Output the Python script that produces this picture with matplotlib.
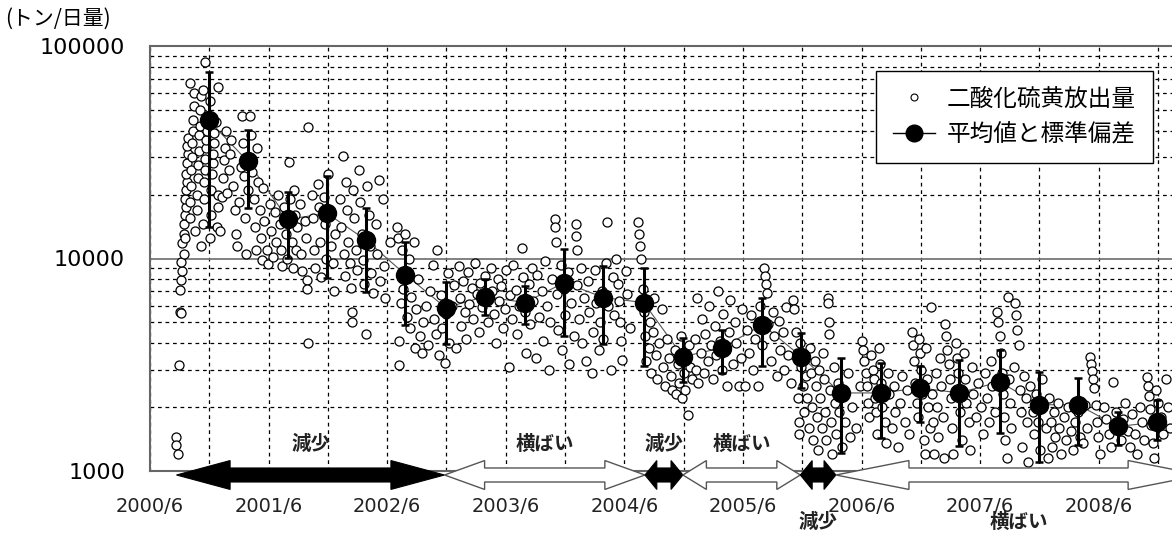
import matplotlib
matplotlib.use('Agg')
import matplotlib.pyplot as plt
from matplotlib.ticker import FixedLocator, NullFormatter, FuncFormatter, LogLocator
from matplotlib.transforms import blended_transform_factory
from matplotlib.lines import Line2D

plt.rcParams['font.family'] = ['DejaVu Sans', 'Noto Sans CJK JP']
CJK = ['Noto Sans CJK JP', 'DejaVu Sans']

# daily SO2 emission (date as decimal year, t/day)
obs_2000 = [(2000.64, 1450), (2000.64, 1330), (2000.65, 1200), (2000.66, 3150), (2000.67, 5600),
            (2000.68, 5550), (2000.67, 7100), (2000.68, 7900), (2000.69, 8700), (2000.68, 9600),
            (2000.70, 10500), (2000.69, 11800), (2000.70, 13000), (2000.71, 12500), (2000.70, 14500),
            (2000.71, 16000), (2000.72, 17500), (2000.71, 19000), (2000.72, 21000), (2000.73, 23000),
            (2000.72, 25000), (2000.73, 28000), (2000.74, 31000), (2000.73, 34000), (2000.74, 37000),
            (2000.75, 15500), (2000.75, 18500), (2000.76, 22000), (2000.76, 26000), (2000.77, 30000),
            (2000.77, 35000), (2000.78, 40000), (2000.78, 45000), (2000.79, 52000), (2000.79, 60000),
            (2000.75, 67000), (2000.80, 13500), (2000.81, 17000), (2000.81, 20000), (2000.82, 24000),
            (2000.82, 27500), (2000.83, 32000), (2000.83, 38000), (2000.84, 42000), (2000.84, 50000),
            (2000.85, 58000), (2000.86, 62000), (2000.85, 11500), (2000.86, 14500), (2000.87, 19000),
            (2000.87, 23000), (2000.88, 26000), (2000.88, 29500), (2000.89, 33000), (2000.89, 36000),
            (2000.90, 40000), (2000.90, 47000), (2000.88, 84000), (2000.92, 55000), (2000.92, 12500),
            (2000.93, 16000), (2000.93, 21000), (2000.94, 25000), (2000.95, 28000), (2000.95, 31000),
            (2000.96, 35000), (2000.96, 39000), (2000.97, 44000), (2000.99, 64000), (2000.98, 14000),
            (2000.99, 17500), (2000.99, 20000)]
obs_2001 = [(2001.01, 13400), (2001.02, 19500), (2001.03, 24000), (2001.04, 29000), (2001.05, 33000),
            (2001.06, 40000), (2001.07, 20400), (2001.08, 26000), (2001.09, 31000), (2001.10, 36000),
            (2001.12, 22000), (2001.13, 17000), (2001.14, 13000), (2001.15, 11500), (2001.17, 18500),
            (2001.18, 27000), (2001.19, 47000), (2001.20, 35000), (2001.21, 24500), (2001.22, 15500),
            (2001.23, 10500), (2001.24, 21000), (2001.25, 30000), (2001.26, 47000), (2001.27, 38000),
            (2001.28, 25500), (2001.29, 19000), (2001.30, 14000), (2001.31, 11000), (2001.32, 33000),
            (2001.33, 23000), (2001.34, 17000), (2001.35, 12500), (2001.36, 9800), (2001.37, 21500),
            (2001.38, 15000), (2001.40, 11000), (2001.41, 9400), (2001.43, 18000), (2001.44, 13500),
            (2001.45, 10200), (2001.47, 16500), (2001.48, 12000), (2001.50, 20000), (2001.51, 14500),
            (2001.52, 11000), (2001.53, 9200), (2001.55, 17500), (2001.56, 13000), (2001.57, 10000),
            (2001.58, 15500), (2001.59, 28300), (2001.60, 19000), (2001.61, 12000), (2001.62, 9000),
            (2001.63, 21000), (2001.64, 16000), (2001.65, 11000), (2001.66, 14000), (2001.68, 18000),
            (2001.69, 10500), (2001.70, 8700), (2001.72, 15000), (2001.73, 12500), (2001.74, 7900),
            (2001.74, 7200), (2001.75, 4000), (2001.75, 41500), (2001.78, 20000), (2001.79, 15500),
            (2001.80, 11000), (2001.81, 9000), (2001.83, 22500), (2001.84, 17500), (2001.85, 12000),
            (2001.86, 8200), (2001.88, 19500), (2001.89, 14500), (2001.90, 10000), (2001.92, 25000),
            (2001.93, 16500), (2001.94, 11500), (2001.96, 9500), (2001.97, 7000), (2001.98, 13000)]
obs_2002 = [(2002.02, 19000), (2002.03, 14000), (2002.04, 30300), (2002.05, 10500), (2002.06, 8300),
            (2002.07, 23000), (2002.08, 17000), (2002.09, 12000), (2002.10, 9500), (2002.11, 7300),
            (2002.12, 5600), (2002.12, 5000), (2002.13, 21000), (2002.14, 15500), (2002.15, 11000),
            (2002.16, 8800), (2002.18, 26000), (2002.19, 18500), (2002.20, 13000), (2002.21, 9800),
            (2002.22, 7600), (2002.24, 4400), (2002.25, 22000), (2002.26, 16000), (2002.27, 11500),
            (2002.28, 8500), (2002.30, 6900), (2002.32, 14500), (2002.33, 10500), (2002.35, 23500),
            (2002.36, 7800), (2002.38, 19000), (2002.39, 9200), (2002.40, 6500), (2002.44, 12000),
            (2002.50, 14000), (2002.51, 12500), (2002.52, 3170), (2002.52, 4100), (2002.53, 6200),
            (2002.54, 11000), (2002.55, 7200), (2002.57, 13000), (2002.58, 5300), (2002.60, 9900),
            (2002.61, 4700), (2002.62, 6600), (2002.64, 12000), (2002.65, 3800), (2002.66, 5800),
            (2002.68, 8000), (2002.69, 4300), (2002.71, 3600), (2002.72, 5000), (2002.74, 6000),
            (2002.76, 3900), (2002.78, 7000), (2002.80, 9300), (2002.81, 5200), (2002.83, 4400),
            (2002.84, 11000), (2002.85, 3500), (2002.87, 6700), (2002.88, 4700), (2002.90, 3230),
            (2002.91, 5500), (2002.93, 8500), (2002.94, 4000), (2002.96, 6000), (2002.98, 7500),
            (2003.00, 3800)]
obs_2003 = [(2003.02, 9200), (2003.03, 6500), (2003.04, 4800), (2003.06, 7800), (2003.07, 5600),
            (2003.08, 4200), (2003.10, 8600), (2003.11, 6100), (2003.13, 7300), (2003.14, 5200),
            (2003.16, 9500), (2003.17, 6800), (2003.19, 4500), (2003.20, 7700), (2003.22, 5900),
            (2003.24, 8300), (2003.25, 6400), (2003.27, 5000), (2003.29, 9000), (2003.30, 7000),
            (2003.32, 5500), (2003.33, 4000), (2003.35, 8000), (2003.36, 6300), (2003.38, 7400),
            (2003.39, 4700), (2003.41, 5800), (2003.42, 8800), (2003.44, 3100), (2003.45, 6700),
            (2003.47, 5200), (2003.48, 9300), (2003.50, 7100), (2003.51, 4400), (2003.53, 6000),
            (2003.55, 11200), (2003.56, 8200), (2003.58, 5600), (2003.59, 3600), (2003.61, 7600),
            (2003.62, 4900), (2003.64, 9000), (2003.65, 6300), (2003.67, 3400), (2003.68, 8400),
            (2003.70, 5300), (2003.72, 7000), (2003.73, 4100), (2003.75, 9700), (2003.76, 6000),
            (2003.78, 3000), (2003.79, 5000), (2003.81, 8000), (2003.83, 15300), (2003.83, 14000),
            (2003.84, 12000), (2003.85, 6800), (2003.86, 4600), (2003.88, 9300), (2003.89, 3700),
            (2003.91, 7200), (2003.92, 5400), (2003.94, 8600), (2003.95, 3200), (2003.97, 6200),
            (2003.99, 4300), (2004.01, 14500), (2004.01, 12800), (2004.02, 11000)]
obs_2004 = [(2004.02, 7500), (2004.03, 5200), (2004.05, 9000), (2004.06, 4000), (2004.08, 6500),
            (2004.09, 3300), (2004.11, 7800), (2004.12, 5600), (2004.14, 2900), (2004.15, 4500),
            (2004.17, 8800), (2004.18, 6200), (2004.20, 3700), (2004.21, 5000), (2004.23, 7000),
            (2004.24, 4200), (2004.26, 9500), (2004.27, 14800), (2004.28, 6000), (2004.30, 3000),
            (2004.32, 8200), (2004.33, 5400), (2004.35, 9900), (2004.36, 7600), (2004.37, 6300),
            (2004.38, 5000), (2004.39, 4100), (2004.40, 3340), (2004.43, 8700), (2004.44, 6800),
            (2004.46, 4700), (2004.53, 14800), (2004.54, 13000), (2004.55, 11500), (2004.56, 9900),
            (2004.57, 7200), (2004.58, 5600), (2004.59, 4300), (2004.60, 3300), (2004.61, 6400),
            (2004.62, 3800), (2004.63, 5000), (2004.64, 2900), (2004.66, 4500), (2004.67, 6500),
            (2004.68, 3500), (2004.69, 2700), (2004.71, 4000), (2004.73, 5800), (2004.74, 3100),
            (2004.76, 2500), (2004.78, 4200), (2004.79, 3400), (2004.81, 2800), (2004.82, 2400),
            (2004.84, 3700), (2004.85, 2300), (2004.87, 3200), (2004.88, 2600), (2004.89, 4300),
            (2004.90, 2200), (2004.91, 3500), (2004.92, 2900), (2004.93, 2400), (2004.95, 1840),
            (2004.96, 3900), (2004.97, 3100), (2004.99, 2700)]
obs_2005 = [(2005.01, 4200), (2005.02, 3000), (2005.03, 6500), (2005.04, 2600), (2005.06, 3600),
            (2005.07, 5200), (2005.09, 2900), (2005.10, 4400), (2005.12, 3300), (2005.13, 6000),
            (2005.15, 3900), (2005.16, 2700), (2005.18, 4800), (2005.19, 3500), (2005.21, 7000),
            (2005.22, 4100), (2005.24, 3000), (2005.25, 5500), (2005.27, 3700), (2005.28, 2500),
            (2005.30, 4500), (2005.31, 6400), (2005.33, 3200), (2005.35, 5000), (2005.36, 4000),
            (2005.38, 2500), (2005.40, 3400), (2005.41, 5800), (2005.43, 2500), (2005.45, 4600),
            (2005.47, 3600), (2005.48, 5400), (2005.50, 3000), (2005.52, 4200), (2005.54, 2500),
            (2005.56, 6000), (2005.58, 3900), (2005.59, 9000), (2005.60, 8300), (2005.61, 7600),
            (2005.62, 6900), (2005.63, 4900), (2005.65, 3300), (2005.67, 5600), (2005.68, 4300),
            (2005.70, 2800), (2005.72, 5100), (2005.73, 3700), (2005.75, 4500), (2005.76, 3000),
            (2005.78, 5900), (2005.80, 3500), (2005.82, 2600), (2005.84, 6400), (2005.85, 5800),
            (2005.86, 4500), (2005.87, 3600), (2005.88, 2200), (2005.89, 1700), (2005.89, 1500),
            (2005.90, 4000), (2005.91, 3100), (2005.92, 2500), (2005.93, 1900), (2005.94, 3500),
            (2005.95, 2800), (2005.96, 2200), (2005.97, 1600), (2005.98, 3800), (2005.99, 2900)]
obs_2006 = [(2006.00, 2000), (2006.01, 1400), (2006.02, 3300), (2006.03, 2500), (2006.04, 1800),
            (2006.05, 1250), (2006.06, 3000), (2006.07, 2200), (2006.08, 1600), (2006.09, 3600),
            (2006.10, 2700), (2006.11, 1900), (2006.12, 1400), (2006.13, 6550), (2006.13, 6200),
            (2006.14, 5000), (2006.14, 4400), (2006.15, 2400), (2006.16, 1700), (2006.17, 1200),
            (2006.18, 3100), (2006.19, 2100), (2006.20, 1500), (2006.22, 2600), (2006.23, 1900),
            (2006.25, 1300), (2006.26, 2300), (2006.28, 1700), (2006.30, 2900), (2006.32, 1450),
            (2006.34, 2000), (2006.37, 1600), (2006.40, 2500), (2006.42, 4100), (2006.43, 3700),
            (2006.44, 3300), (2006.45, 2900), (2006.46, 2500), (2006.47, 2100), (2006.48, 1800),
            (2006.50, 3500), (2006.51, 3000), (2006.52, 2700), (2006.53, 2200), (2006.54, 1900),
            (2006.55, 1500), (2006.56, 3800), (2006.57, 3200), (2006.58, 2600), (2006.59, 2000),
            (2006.61, 1700), (2006.62, 1350), (2006.64, 2900), (2006.65, 2300), (2006.67, 1600),
            (2006.69, 2500), (2006.70, 1900), (2006.72, 1300), (2006.74, 2100), (2006.76, 2800),
            (2006.78, 1700), (2006.80, 2400), (2006.82, 1500), (2006.84, 4500), (2006.85, 3900),
            (2006.86, 3300), (2006.87, 2600), (2006.88, 2100), (2006.89, 1800), (2006.90, 4200),
            (2006.91, 3600), (2006.92, 3000), (2006.93, 2300), (2006.94, 1400), (2006.95, 1200),
            (2006.96, 3800), (2006.97, 2700), (2006.98, 2000), (2006.99, 1600)]
obs_2007 = [(2007.00, 5900), (2007.01, 2300), (2007.02, 1700), (2007.03, 1200), (2007.04, 2900),
            (2007.05, 2000), (2007.06, 1450), (2007.08, 3400), (2007.09, 2500), (2007.10, 1800),
            (2007.11, 1150), (2007.12, 4900), (2007.13, 4300), (2007.14, 3700), (2007.15, 3200),
            (2007.16, 2700), (2007.17, 2200), (2007.18, 1600), (2007.19, 1200), (2007.21, 4000),
            (2007.22, 3400), (2007.23, 2900), (2007.24, 2400), (2007.25, 1900), (2007.26, 1400),
            (2007.28, 3600), (2007.29, 2700), (2007.30, 2100), (2007.32, 1700), (2007.33, 1250),
            (2007.35, 3100), (2007.36, 2300), (2007.38, 1800), (2007.40, 2600), (2007.42, 2000),
            (2007.44, 1500), (2007.46, 2900), (2007.47, 2200), (2007.49, 1700), (2007.51, 3300),
            (2007.52, 2500), (2007.54, 1900), (2007.56, 5600), (2007.57, 5000), (2007.58, 4300),
            (2007.59, 3600), (2007.60, 2900), (2007.61, 2300), (2007.62, 1800), (2007.63, 1400),
            (2007.64, 1150), (2007.65, 6600), (2007.66, 2700), (2007.67, 2100), (2007.68, 1600),
            (2007.70, 3100), (2007.71, 6200), (2007.72, 5400), (2007.73, 4600), (2007.74, 3900),
            (2007.75, 2400), (2007.76, 1900), (2007.77, 1300), (2007.79, 2800), (2007.80, 2200),
            (2007.81, 1700), (2007.82, 1100), (2007.84, 2500), (2007.86, 1900), (2007.87, 1500),
            (2007.89, 2300), (2007.90, 1700), (2007.92, 1250), (2007.94, 2700), (2007.95, 2000),
            (2007.97, 1600), (2007.99, 1150)]
obs_2008 = [(2008.00, 2200), (2008.01, 1700), (2008.02, 1300), (2008.04, 1900), (2008.05, 1450),
            (2008.07, 2100), (2008.08, 1600), (2008.10, 1200), (2008.12, 1800), (2008.14, 1400),
            (2008.16, 2000), (2008.18, 1550), (2008.20, 1250), (2008.22, 1700), (2008.24, 1900),
            (2008.26, 1450), (2008.28, 1350), (2008.30, 2050), (2008.32, 1600), (2008.34, 3450),
            (2008.35, 3200), (2008.36, 2950), (2008.37, 2700), (2008.38, 2450), (2008.39, 2050),
            (2008.40, 1700), (2008.41, 1450), (2008.43, 1200), (2008.46, 2000), (2008.48, 1750),
            (2008.50, 1500), (2008.52, 1300), (2008.54, 2630), (2008.56, 1900), (2008.58, 1600),
            (2008.60, 1400), (2008.62, 1750), (2008.64, 2100), (2008.66, 1550), (2008.68, 1300),
            (2008.70, 1850), (2008.72, 1500), (2008.74, 1200), (2008.76, 2000), (2008.78, 1700),
            (2008.80, 1400), (2008.82, 2780), (2008.83, 2500), (2008.84, 2250), (2008.85, 1950),
            (2008.86, 1650), (2008.87, 1350), (2008.88, 1150), (2008.90, 2400), (2008.92, 2100),
            (2008.94, 1800), (2008.96, 1500), (2008.98, 2700), (2009.00, 2000), (2009.02, 1600)]

# 4-month means and mean +/- 1 sd
mean_date = [2000.91, 2001.24, 2001.58, 2001.91, 2002.24, 2002.57, 2002.91, 2003.24, 2003.58,
             2003.91, 2004.24, 2004.58, 2004.91, 2005.24, 2005.58, 2005.91, 2006.24, 2006.58,
             2006.91, 2007.24, 2007.58, 2007.91, 2008.24, 2008.58, 2008.91]
mean_val = [44800, 28700, 15300, 16300, 12200, 8400, 5870, 6620, 6200, 7710, 6550, 6200, 3450,
            3800, 4880, 3450, 2330, 2330, 2460, 2330, 2630, 2050, 2050, 1620, 1700]
sd_high = [75400, 40100, 20500, 24400, 17200, 11900, 7790, 8050, 7460, 11030, 9170, 9070, 4240,
           4630, 6550, 4480, 3410, 3230, 3130, 3340, 3720, 2930, 2750, 1900, 2160]
sd_low = [14000, 17200, 10100, 8130, 6990, 4880, 3970, 5440, 4940, 4330, 3970, 3130, 2630,
          2900, 3130, 2460, 1216, 1430, 1700, 1310, 1510, 1100, 1330, 1330, 1400]

# trend periods
trend_start = [2000.64, 2002.90, 2004.59, 2004.91, 2005.90, 2006.20]
trend_end = [2002.90, 2004.59, 2004.91, 2005.90, 2006.20, 2009.28]
trend_label = ['減少', '横ばい', '減少', '横ばい', '減少', '横ばい']
trend_down = [True, False, True, False, True, False]
label_below = [False, False, False, False, True, True]

tick_years = list(range(2000, 2009))

obs = obs_2000 + obs_2001 + obs_2002 + obs_2003 + obs_2004 + obs_2005 + obs_2006 + obs_2007 + obs_2008
obs_t = [p[0] for p in obs]
obs_v = [p[1] for p in obs]

fig = plt.figure(figsize=(11.72, 5.35), dpi=100)
ax = fig.add_axes([150 / 1172, 64 / 535, 1022 / 1172, 425 / 535])
ax.set_yscale('log')
ax.set_ylim(1000, 100000)
ax.set_xlim(2000 + 5 / 12, 2009.034)

# grid
ax.xaxis.set_major_locator(FixedLocator([y + 5 / 12 for y in tick_years]))
ax.xaxis.set_minor_locator(FixedLocator([y + 11 / 12 for y in tick_years]))
ax.set_xticklabels([f'{y}/6' for y in tick_years])
ax.yaxis.set_major_locator(FixedLocator([1000, 10000, 100000]))
ax.yaxis.set_minor_locator(LogLocator(base=10, subs=range(2, 10)))
ax.yaxis.set_major_formatter(FuncFormatter(lambda v, _: f'{int(v)}'))
ax.yaxis.set_minor_formatter(NullFormatter())
ax.grid(True, axis='x', which='both', color='black', ls=(0, (3, 3)), lw=0.9)
ax.grid(True, axis='y', which='minor', color='black', ls=(0, (3, 3)), lw=0.9)
ax.grid(True, axis='y', which='major', color='#777777', ls='-', lw=1.3)
ax.tick_params(which='both', length=0)
ax.tick_params(axis='y', labelsize=16, pad=18)
ax.tick_params(axis='x', labelsize=14, pad=19, labelcolor='#222222')
ax.set_axisbelow(True)
for s in ['left', 'top', 'bottom']:
    ax.spines[s].set_color('#666666')
    ax.spines[s].set_linewidth(1.5)
ax.spines['right'].set_visible(False)

# data
ax.plot(mean_date, mean_val, '-', color='#555555', lw=0.8, zorder=2)
ax.plot(obs_t, obs_v, 'o', ls='none', ms=6.5, mfc='white', mec='black', mew=0.9, zorder=3)
yerr = [[m - lo for m, lo in zip(mean_val, sd_low)], [hi - m for m, hi in zip(mean_val, sd_high)]]
ax.errorbar(mean_date, mean_val, yerr=yerr, fmt='o', ms=13, color='black', ecolor='black',
            elinewidth=2.2, capsize=3, capthick=1.8, zorder=4)

# trend arrows under the axis
trans = blended_transform_factory(ax.transData, ax.transAxes)
c, H, S = -0.0094, 0.034, 0.0165
for x0, x1, lab, down, below in zip(trend_start, trend_end, trend_label, trend_down, label_below):
    h = max(0.1, 0.2 * (x1 - x0))
    xs = [x0, x0 + h, x0 + h, x1 - h, x1 - h, x1, x1 - h, x1 - h, x0 + h, x0 + h]
    ys = [c, c + H, c + S, c + S, c + H, c, c - H, c - S, c - S, c - H]
    if down:
        ax.fill(xs, ys, transform=trans, facecolor='black', edgecolor='black', lw=0.8,
                clip_on=False, zorder=5)
    else:
        ax.fill(xs, ys, transform=trans, facecolor='white', edgecolor='#555555', lw=1.0,
                clip_on=False, zorder=5)
    ty = -0.122 if below else 0.0635
    ax.text((x0 + x1) / 2, ty, lab, transform=trans, ha='center', va='center', fontsize=14,
            fontweight='bold', color='#222222', family=CJK, zorder=6)

fig.text(5 / 1172, 1 - 19 / 535, '(トン/日量)', fontsize=15, ha='left', va='center', family=CJK)

handles = [Line2D([], [], marker='o', ls='none', ms=5, mfc='white', mec='black', mew=0.8),
           Line2D([], [], marker='o', color='black', ms=12, lw=1)]
leg = ax.legend(handles, ['二酸化硫黄放出量', '平均値と標準偏差'], loc='upper right',
                bbox_to_anchor=(0.981, 0.941), borderaxespad=0, fancybox=False, framealpha=1,
                edgecolor='black', prop={'family': CJK, 'size': 17}, handlelength=1.8,
                handletextpad=0.5, borderpad=0.7, labelspacing=0.55)
leg.get_frame().set_linewidth(1.0)
leg.set_zorder(7)

fig.savefig('out.png', dpi=100)
